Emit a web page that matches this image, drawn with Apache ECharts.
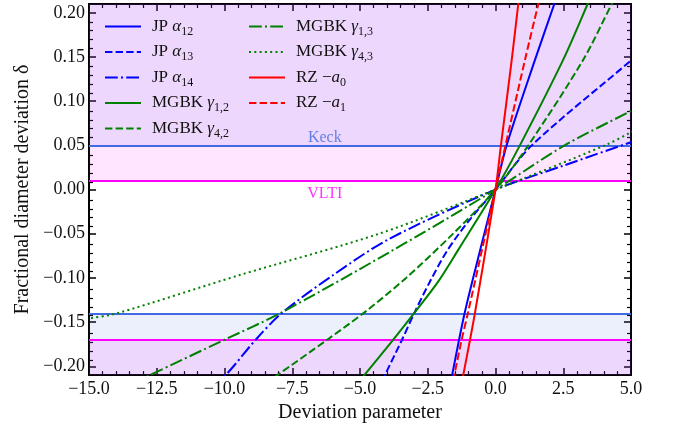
<!DOCTYPE html>
<html><head><meta charset="utf-8">
<script src="https://cdn.jsdelivr.net/npm/echarts@6/dist/echarts.min.js"></script>
<style>html,body{margin:0;padding:0;background:#fff}#c{width:675px;height:428px}</style>
</head><body><div id="c"></div>
<script>
// ---- data ----
const xTicks = [-15, -12.5, -10, -7.5, -5, -2.5, 0, 2.5, 5];
const yTicks = [-0.20, -0.15, -0.10, -0.05, 0, 0.05, 0.10, 0.15, 0.20];
const yMinorTicks = [-0.19,-0.18,-0.17,-0.16,-0.14,-0.13,-0.12,-0.11,-0.09,-0.08,-0.07,-0.06,-0.04,-0.03,-0.02,-0.01,
                     0.01,0.02,0.03,0.04,0.06,0.07,0.08,0.09,0.11,0.12,0.13,0.14,0.16,0.17,0.18,0.19];

const jpA12 = [[-1.75,-0.235],[-1.6,-0.21],[-1.14,-0.14],[-0.57,-0.069],[0,0],[0.41,0.05],[1.46,0.147],[2.17,0.21],[2.4,0.23]];
const jpA13 = [[-4.35,-0.228],[-4.08,-0.21],[-3.45,-0.17],[-3.0,-0.14],[-2.45,-0.106],[-1.8,-0.07],[-1.0,-0.036],[0,0],[1.34,0.05],[5,0.146],[5.3,0.153]];
const jpA14 = [[-10.5,-0.222],[-9.96,-0.21],[-8.85,-0.17],[-7.89,-0.14],[-6.0,-0.097],[-3.93,-0.056],[0,0],[2.5,0.027],[5,0.0535],[5.3,0.056]];
const mgG12 = [[-5.3,-0.227],[-4.84,-0.21],[-3.8,-0.171],[-2.95,-0.138],[-2.11,-0.104],[-1.37,-0.068],[0,0],[0.9,0.05],[2.5,0.147],[3.4,0.21],[3.7,0.232]];
const mgG42 = [[-8.8,-0.226],[-8.05,-0.21],[-6.21,-0.17],[-4.75,-0.137],[-3.3,-0.1],[-1.6,-0.051],[0,0],[1.21,0.05],[3.24,0.147],[4.29,0.21],[4.6,0.228]];
const mgG13 = [[-13.4,-0.22],[-12.75,-0.21],[-10.0,-0.17],[-7.95,-0.14],[-3.93,-0.0712],[0,0],[2.55,0.05],[5,0.089],[5.3,0.094]];
const mgG43 = [[-15.3,-0.148],[-15,-0.146],[-13.96,-0.14],[-9.46,-0.097],[-4.3,-0.05],[0,0],[4.04,0.05],[5,0.0647],[5.3,0.069]];
const rzA0 = [[-1.3,-0.227],[-1.19,-0.21],[-0.94,-0.17],[-0.76,-0.14],[0,0],[0.2,0.05],[0.6,0.147],[0.84,0.21],[0.92,0.23]];
const rzA1 = [[-1.65,-0.228],[-1.52,-0.21],[-1.25,-0.17],[-1.02,-0.14],[0,0],[1.09,0.147],[1.58,0.21],[1.72,0.228]];

const keckLevels = [0.05, -0.14];
const vltiLevels = [0.01, -0.17];
const bandLabelX = -6.3;

const seriesNames = ['JP α12','JP α13','JP α14','MGBK γ1,2','MGBK γ4,2','MGBK γ1,3','MGBK γ4,3','RZ −a0','RZ −a1'];
const seriesData = [jpA12, jpA13, jpA14, mgG12, mgG42, mgG13, mgG43, rzA0, rzA1];
const richNames = {
  'JP α12':'{n|JP }{g|α}{s|12}', 'JP α13':'{n|JP }{g|α}{s|13}', 'JP α14':'{n|JP }{g|α}{s|14}',
  'MGBK γ1,2':'{n|MGBK }{g|γ}{s|1,2}', 'MGBK γ4,2':'{n|MGBK }{g|γ}{s|4,2}',
  'MGBK γ1,3':'{n|MGBK }{g|γ}{s|1,3}', 'MGBK γ4,3':'{n|MGBK }{g|γ}{s|4,3}',
  'RZ −a0':'{n|RZ −}{g|a}{s|0}', 'RZ −a1':'{n|RZ −}{g|a}{s|1}'
};

// ---- styles ----
const FONT = 'Liberation Serif';
const BLUE = '#0000ff', GREEN = '#008000', RED = '#ff0000';
const SOLID = 'solid', DASH = [7.4, 3.2], DASHDOT = [12.8, 3.2, 2, 3.2], DOT = [2, 3.3];
const styles = [
  [BLUE, SOLID], [BLUE, DASH], [BLUE, DASHDOT], [GREEN, SOLID], [GREEN, DASH],
  [GREEN, DASHDOT], [GREEN, DOT], [RED, SOLID], [RED, DASH]
];

const fmtY = v => (v < 0 ? '\u2212' : '') + Math.abs(v).toFixed(2);
const fmtX = v => (v < 0 ? '\u2212' : '') + Math.abs(v).toFixed(1);

const axisLineStyle = {show: true, onZero: false, lineStyle: {color: '#000', width: 2}};
const majorTick = {show: true, inside: true, length: 7, lineStyle: {color: '#000', width: 1.5}};
const minorTickX = {show: true, splitNumber: 5, length: 4, lineStyle: {color: '#000', width: 1.2}};
const gridRect = {left: 89, right: 44, top: 4, bottom: 50, show: false};

const rich = {
  n: {fontFamily: FONT, fontSize: 17, color: '#111', lineHeight: 22, padding: [0, 0, 0, 6]},
  g: {fontFamily: FONT, fontSize: 17, color: '#111', fontStyle: 'italic', lineHeight: 22},
  s: {fontFamily: FONT, fontSize: 12, color: '#111', lineHeight: 12, verticalAlign: 'bottom'}
};

const lineSeries = seriesNames.map((name, i) => ({
  name, type: 'line', data: seriesData[i], xAxisIndex: 0, yAxisIndex: 0,
  showSymbol: false, symbol: 'none', smooth: 0.3, z: 5,
  lineStyle: {color: styles[i][0], width: 2, type: styles[i][1], cap: 'butt'},
  itemStyle: {color: styles[i][0]}
}));

const legendBase = {
  orient: 'vertical', padding: 0, itemWidth: 36, itemHeight: 10, itemGap: 6,
  selectedMode: false, formatter: n => richNames[n],
  itemStyle: {opacity: 0},
  textStyle: {fontFamily: FONT, fontSize: 17, color: '#111', rich}
};

const option = {
  animation: false,
  backgroundColor: '#fff',
  grid: [gridRect, gridRect],
  legend: [
    Object.assign({}, legendBase, {left: 104, top: 18, data: seriesNames.slice(0, 5)}),
    Object.assign({}, legendBase, {left: 248, top: 18, data: seriesNames.slice(5)})
  ],
  xAxis: [
    {gridIndex: 0, type: 'value', min: xTicks[0], max: xTicks[xTicks.length - 1], interval: 2.5, position: 'bottom',
     axisLine: axisLineStyle, axisTick: majorTick, minorTick: minorTickX, splitLine: {show: false},
     axisLabel: {formatter: fmtX, margin: 5, fontFamily: FONT, fontSize: 18, color: '#111'},
     name: 'Deviation parameter', nameLocation: 'middle', nameGap: 22,
     nameTextStyle: {fontFamily: FONT, fontSize: 20, color: '#111'}},
    {gridIndex: 0, type: 'value', min: xTicks[0], max: xTicks[xTicks.length - 1], interval: 2.5, position: 'top',
     axisLine: axisLineStyle, axisTick: majorTick, minorTick: minorTickX, splitLine: {show: false},
     axisLabel: {show: false}},
    {gridIndex: 1, type: 'value', min: -15, max: 5, show: false}
  ],
  yAxis: [
    {gridIndex: 0, type: 'value', min: -0.21, max: 0.21, position: 'left',
     axisLine: axisLineStyle, axisTick: Object.assign({customValues: yTicks}, majorTick), splitLine: {show: false},
     axisLabel: {customValues: yTicks, formatter: fmtY, margin: 4, fontFamily: FONT, fontSize: 18, color: '#111'},
     name: 'Fractional diameter deviation \u03b4', nameLocation: 'middle', nameGap: 52,
     nameTextStyle: {fontFamily: FONT, fontSize: 20, color: '#111'}},
    {gridIndex: 0, type: 'value', min: -0.21, max: 0.21, position: 'right',
     axisLine: axisLineStyle, axisTick: Object.assign({customValues: yTicks}, majorTick), splitLine: {show: false},
     axisLabel: {show: false, customValues: yTicks}},
    {gridIndex: 1, type: 'value', min: -0.21, max: 0.21, position: 'left',
     axisLine: {show: false, onZero: false}, splitLine: {show: false},
     axisTick: {show: true, inside: true, length: 4, customValues: yMinorTicks, lineStyle: {color: '#000', width: 1.2}},
     axisLabel: {show: false, customValues: yMinorTicks}},
    {gridIndex: 1, type: 'value', min: -0.21, max: 0.21, position: 'right',
     axisLine: {show: false, onZero: false}, splitLine: {show: false},
     axisTick: {show: true, inside: true, length: 4, customValues: yMinorTicks, lineStyle: {color: '#000', width: 1.2}},
     axisLabel: {show: false, customValues: yMinorTicks}}
  ],
  series: [
    {type: 'line', name: '_keck', data: [], xAxisIndex: 0, yAxisIndex: 0, z: 1,
     markArea: {silent: true, itemStyle: {color: 'rgba(65,105,225,0.1)'},
       data: [[{yAxis: keckLevels[0]}, {yAxis: 0.21}], [{yAxis: -0.21}, {yAxis: keckLevels[1]}]]},
     markLine: {silent: true, symbol: 'none', label: {show: false},
       lineStyle: {color: '#4169e1', width: 2, type: 'solid'},
       data: keckLevels.map(v => ({yAxis: v}))}},
    {type: 'line', name: '_vlti', data: [], xAxisIndex: 0, yAxisIndex: 0, z: 1,
     markArea: {silent: true, itemStyle: {color: 'rgba(255,0,255,0.1)'},
       data: [[{yAxis: vltiLevels[0]}, {yAxis: 0.21}], [{yAxis: -0.21}, {yAxis: vltiLevels[1]}]]},
     markLine: {silent: true, symbol: 'none', label: {show: false},
       lineStyle: {color: '#ff00ff', width: 2, type: 'solid'},
       data: vltiLevels.map(v => ({yAxis: v}))}},
    {type: 'scatter', name: '_labels', xAxisIndex: 0, yAxisIndex: 0, symbolSize: 0, silent: true, z: 3,
     data: [
       {value: [bandLabelX, keckLevels[0]], label: {show: true, position: 'top', distance: 0, formatter: 'Keck', color: '#4169e1', fontFamily: FONT, fontSize: 16}},
       {value: [bandLabelX, vltiLevels[0]], label: {show: true, position: 'bottom', distance: 5, formatter: 'VLTI', color: '#ff00ff', fontFamily: FONT, fontSize: 16}}
     ]}
  ].concat(lineSeries)
};

const chart = echarts.init(document.getElementById('c'), null, {renderer: 'canvas'});
chart.setOption(option);
</script>
</body></html>
